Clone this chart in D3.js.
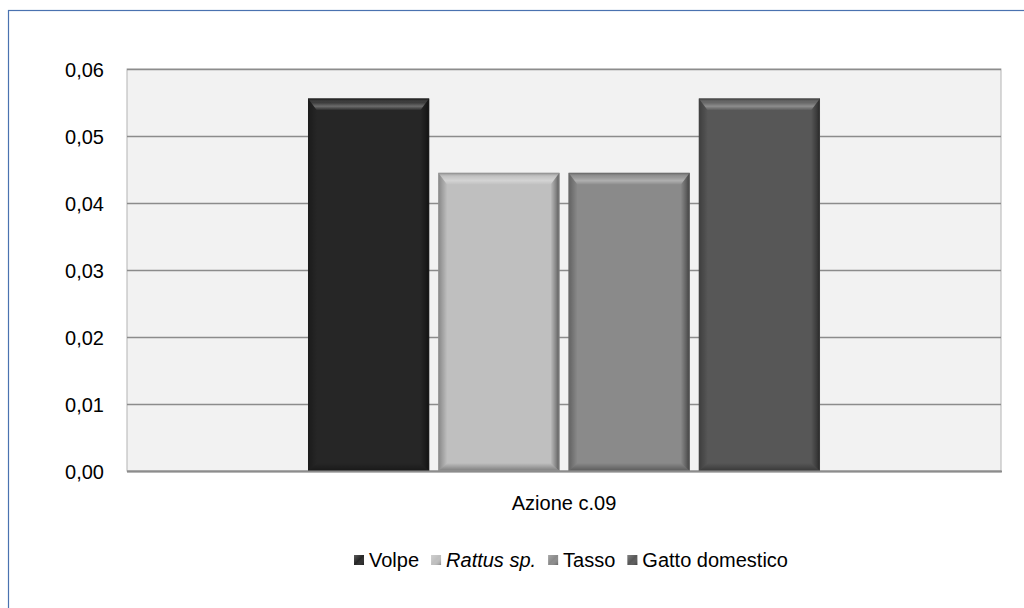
<!DOCTYPE html>
<html>
<head>
<meta charset="utf-8">
<script src="https://cdn.jsdelivr.net/npm/d3@7"></script>
<style>
  html, body { margin: 0; padding: 0; background: #ffffff; }
  svg { display: block; font-family: "Liberation Sans", Arial, sans-serif; }
</style>
</head>
<body>
<svg id="chart" width="1024" height="608"></svg>
<script>
// Data
const categories = ["Azione c.09"];
const seriesNames = ["Volpe", "Rattus sp.", "Tasso", "Gatto domestico"];
const seriesValues = [0.0556, 0.0445, 0.0445, 0.0556];
const seriesColors = ["#262626", "#bfbfbf", "#8a8a8a", "#575757"];
const seriesItalic = [false, true, false, false];
const yTicks = [0, 0.01, 0.02, 0.03, 0.04, 0.05, 0.06];

const W = 1024, H = 608;
const plot = { left: 127, right: 1001, top: 69, bottom: 471 };
const FONT = 20;

const svg = d3.select("#chart");
const itLocale = d3.formatLocale({ decimal: ",", thousands: ".", grouping: [3], currency: ["€", ""] });
const fmt = itLocale.format(".2f");

// Outer chart border
svg.append("rect")
  .attr("x", 8.5).attr("y", 10.5)
  .attr("width", W).attr("height", H)
  .attr("fill", "#ffffff")
  .attr("stroke", "#4a72b0").attr("stroke-width", 1.2);

const y = d3.scaleLinear().domain([0, 0.06]).range([plot.bottom, plot.top]);
const x0 = d3.scaleBand().domain(categories).range([plot.left, plot.right]).paddingOuter(0.3535).paddingInner(0);
const x1 = d3.scaleBand().domain(seriesNames).range([0, x0.bandwidth()]).paddingInner(0.07).paddingOuter(0);

// Plot area background
svg.append("rect")
  .attr("x", plot.left).attr("y", plot.top)
  .attr("width", plot.right - plot.left).attr("height", plot.bottom - plot.top)
  .attr("fill", "#f2f2f2")
  .attr("stroke", "#b4b4b4").attr("stroke-width", 1);

// Gridlines
svg.append("g")
  .attr("transform", `translate(${plot.left},0)`)
  .call(d3.axisLeft(y).tickValues(yTicks).tickSize(-(plot.right - plot.left)).tickFormat(""))
  .call(g => g.select(".domain").remove())
  .call(g => g.selectAll(".tick line").attr("stroke", "#8c8c8c").attr("stroke-width", 1.3));

// Y tick labels
svg.append("g")
  .attr("transform", `translate(${plot.left},0)`)
  .call(d3.axisLeft(y).tickValues(yTicks).tickSize(0).tickPadding(23).tickFormat(fmt))
  .call(g => g.select(".domain").remove())
  .call(g => g.selectAll(".tick text")
    .attr("font-family", "Liberation Sans, Arial, sans-serif")
    .attr("dy", "0.36em")
    .attr("font-size", FONT).attr("fill", "#000"));

// Gradients for the bevelled bars
const defs = svg.append("defs");
function grad(id, x1g, y1g, x2g, y2g, stops) {
  const g = defs.append("linearGradient").attr("id", id)
    .attr("x1", x1g).attr("y1", y1g).attr("x2", x2g).attr("y2", y2g);
  stops.forEach(s => g.append("stop").attr("offset", s[0]).attr("stop-color", s[1]).attr("stop-opacity", s[2]));
}
grad("bevTop", 0, 0, 0, 1, [[0, "#000", 0.3], [0.35, "#fff", 0.1], [0.65, "#fff", 0.32], [1, "#fff", 0.0]]);
grad("bevRight", 0, 0, 1, 0, [[0, "#000", 0.0], [0.6, "#000", 0.3], [1, "#000", 0.55]]);
grad("bevLeft", 0, 0, 1, 0, [[0, "#000", 0.3], [1, "#000", 0.0]]);
grad("bevBottom", 0, 0, 0, 1, [[0, "#000", 0.0], [1, "#000", 0.35]]);
grad("keyShade", 0, 0, 1, 1, [[0, "#fff", 0.25], [0.5, "#fff", 0.0], [1, "#000", 0.3]]);

const bars = svg.append("g").selectAll("g.bar")
  .data(seriesNames.map((s, i) => ({ name: s, value: seriesValues[i], color: seriesColors[i] })))
  .join("g").attr("class", "bar");

bars.each(function (d) {
  const g = d3.select(this);
  const bx = x0(categories[0]) + x1(d.name);
  const bw = x1.bandwidth();
  const by = y(d.value);
  const bh = y(0) - by;
  const t = 12, s = 9, b = 8;
  g.append("rect").attr("x", bx).attr("y", by).attr("width", bw).attr("height", bh)
    .attr("fill", d.color);
  const poly = (pts, fill) => g.append("polygon")
    .attr("points", pts.map(p => p.join(",")).join(" ")).attr("fill", fill);
  poly([[bx, by], [bx + bw, by], [bx + bw - s, by + t], [bx + s, by + t]], "url(#bevTop)");
  poly([[bx + bw, by], [bx + bw, by + bh], [bx + bw - s, by + bh - b], [bx + bw - s, by + t]], "url(#bevRight)");
  poly([[bx, by], [bx + s, by + t], [bx + s, by + bh - b], [bx, by + bh]], "url(#bevLeft)");
  poly([[bx, by + bh], [bx + s, by + bh - b], [bx + bw - s, by + bh - b], [bx + bw, by + bh]], "url(#bevBottom)");
  g.append("rect").attr("x", bx + 0.5).attr("y", by + 0.5).attr("width", bw - 1).attr("height", bh - 1)
    .attr("fill", "none").attr("stroke", d3.color(d.color).darker(0.6)).attr("stroke-opacity", 0.6);
});

// Category axis line
svg.append("line")
  .attr("x1", plot.left).attr("x2", plot.right + 1)
  .attr("y1", plot.bottom + 0.5).attr("y2", plot.bottom + 0.5)
  .attr("stroke", "#8c8c8c").attr("stroke-width", 2);

// Category label
svg.append("g")
  .attr("transform", `translate(0,${plot.bottom})`)
  .call(d3.axisBottom(x0).tickSize(0).tickPadding(25))
  .call(g => g.select(".domain").remove())
  .call(g => g.selectAll(".tick text")
    .attr("font-family", "Liberation Sans, Arial, sans-serif")
    .attr("font-size", FONT).attr("fill", "#000"));

// Legend
const legend = svg.append("g").attr("transform", "translate(0,560)");
const items = [];
const tmp = legend.append("g");
seriesNames.forEach((n, i) => {
  const t = tmp.append("text").attr("font-size", FONT)
    .attr("font-style", seriesItalic[i] ? "italic" : "normal").text(n);
  const w = t.node().getComputedTextLength();
  items.push({ n, w, i });
  t.remove();
});
tmp.remove();
const markerW = 10, gapMT = 5, gapItem = 12;
const total = d3.sum(items, d => markerW + gapMT + d.w) + gapItem * (items.length - 1);
let cx = (plot.left + plot.right) / 2 - total / 2 + 7;
items.forEach(d => {
  legend.append("rect").attr("x", cx).attr("y", -5).attr("width", markerW).attr("height", markerW)
    .attr("fill", seriesColors[d.i]);
  legend.append("rect").attr("x", cx).attr("y", -5).attr("width", markerW).attr("height", markerW)
    .attr("fill", "url(#keyShade)");
  legend.append("text").attr("x", cx + markerW + gapMT).attr("y", 0).attr("dy", "0.35em")
    .attr("font-size", FONT).attr("fill", "#000")
    .attr("font-style", seriesItalic[d.i] ? "italic" : "normal").text(d.n);
  cx += markerW + gapMT + d.w + gapItem;
});
</script>
</body>
</html>
